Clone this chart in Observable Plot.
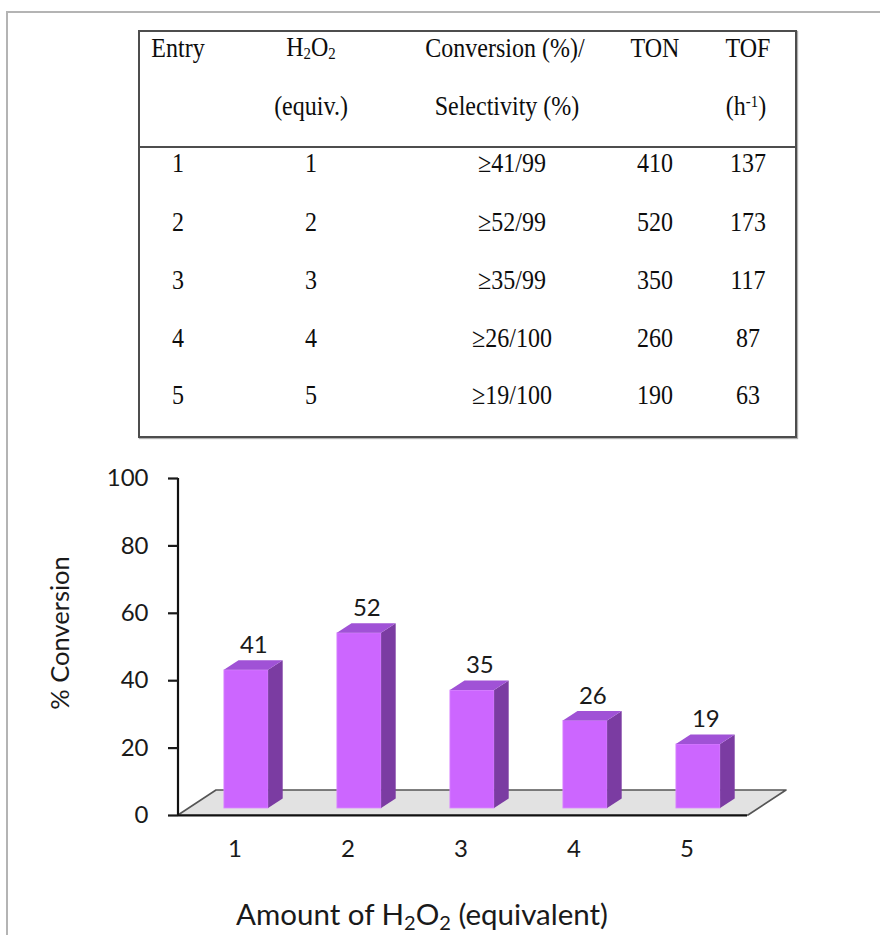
<!DOCTYPE html>
<html>
<head>
<meta charset="utf-8">
<script src="https://cdn.jsdelivr.net/npm/d3@7"></script>
<script src="https://cdn.jsdelivr.net/npm/@observablehq/plot@0.6"></script>
<style>
  html, body { margin: 0; padding: 0; background: #fff; }
  #page { position: relative; width: 880px; height: 935px; overflow: hidden; }
  .frame { position: absolute; left: 6px; top: 11px; width: 900px; height: 960px;
           border-top: 2.5px solid #b4b4b4; border-left: 2.5px solid #b4b4b4; }
  #tbl { position: absolute; left: 138px; top: 30px; width: 655px; height: 404px;
         border: 2px solid #4d4d4d; box-shadow: 1px 1px 1px #b0b0b0; }
  #sep { position: absolute; left: 138px; top: 146px; width: 659px; border-top: 2px solid #4d4d4d; }
  .cell { position: absolute; transform: translate(-50%, -50%) scaleY(1.14); white-space: nowrap; line-height: 1;
          font-family: "Liberation Serif", "Times New Roman", serif; font-size: 24px; color: #0d0d0d; }
  .cell sub { font-size: 0.62em; vertical-align: -0.18em; }
  .cell sup { font-size: 0.62em; vertical-align: 0.5em; }
  #chart { position: absolute; left: 0; top: 450px; }
  #xlabel { position: absolute; left: 422px; top: 915px; transform: translate(-50%, -50%);
            font-family: Lato, "Open Sans", sans-serif; font-size: 29.5px; color: #1a1a1a; white-space: nowrap; }
  #xlabel sub { font-size: 0.68em; vertical-align: -0.25em; }
</style>
</head>
<body>
<div id="page">
  <div class="frame"></div>
  <div id="tbl"></div>
  <div id="sep"></div>
  <div id="chart"></div>
  <div id="xlabel">Amount of H<sub>2</sub>O<sub>2</sub> (equivalent)</div>
</div>
<script>
// Oxidation results for increasing amounts of H2O2
const entries = [1, 2, 3, 4, 5];
const h2o2Equiv = [1, 2, 3, 4, 5];
const conversion = [41, 52, 35, 26, 19];
const selectivity = [99, 99, 99, 100, 100];
const ton = [410, 520, 350, 260, 190];
const tof = [137, 173, 117, 87, 63];
const yTicks = [0, 20, 40, 60, 80, 100];

// ---- table ----
const page = document.getElementById("page");
function cell(html, x, y) {
  const el = document.createElement("div");
  el.className = "cell";
  el.innerHTML = html;
  el.style.left = x + "px";
  el.style.top = y + "px";
  page.appendChild(el);
}
const colX = { entry: 178, h2o2: 311, conv: 512, ton: 655, tof: 748 };
cell("Entry", colX.entry, 48);
cell("H<sub>2</sub>O<sub>2</sub>", colX.h2o2, 48);
cell("(equiv.)", colX.h2o2, 106);
cell("Conversion (%)/", 505, 48);
cell("Selectivity (%)", 507, 106);
cell("TON", colX.ton, 48);
cell("TOF", colX.tof, 48);
cell("(h<sup>-1</sup>)", 746, 106);
const rowY = [163, 222, 280, 338, 395];
entries.forEach((e, i) => {
  cell(String(e), colX.entry, rowY[i]);
  cell(String(h2o2Equiv[i]), colX.h2o2, rowY[i]);
  cell("≥" + conversion[i] + "/" + selectivity[i], colX.conv, rowY[i]);
  cell(String(ton[i]), colX.ton, rowY[i]);
  cell(String(tof[i]), colX.tof, rowY[i]);
});

// ---- 3-D style column chart ----
const bars = h2o2Equiv.map((e, i) => ({ equiv: e, conv: conversion[i] }));

const inset = 34.4;                       // leaves a 45px wide column face
const shift = { dx: 9.5, dy: -7 };        // column plane sits inside the floor
const depth = { dx: 14.6, dy: -9.5 };     // column depth
const floorDepth = { dx: 38, dy: -25 };   // floor depth

function bandwidthOf(scales, dim) {
  return typeof scales.x.bandwidth === "function"
    ? scales.x.bandwidth()
    : (dim.width - dim.marginLeft - dim.marginRight) / bars.length;
}

// floor plane and vertical axis line
function floor(index, scales, values, dim) {
  const g = d3.create("svg:g");
  const x0 = dim.marginLeft, x1 = dim.width - dim.marginRight + 1, y0 = scales.y(0);
  g.append("path")
    .attr("d", `M${x0},${y0}L${x1},${y0}L${x1 + floorDepth.dx},${y0 + floorDepth.dy}L${x0 + floorDepth.dx},${y0 + floorDepth.dy}Z`)
    .attr("fill", "#e2e2e2")
    .attr("stroke", "#555")
    .attr("stroke-width", 1.6)
    .attr("stroke-linejoin", "round");
  g.append("line")
    .attr("x1", x0).attr("x2", x0)
    .attr("y1", scales.y(0) + 1).attr("y2", scales.y(100))
    .attr("stroke", "#111").attr("stroke-width", 2.2);
  return g.node();
}

// right side and top faces of each column
function columnFaces(index, scales, values, dim) {
  const g = d3.create("svg:g");
  const bw = bandwidthOf(scales, dim);
  bars.forEach(d => {
    const xl = scales.x(d.equiv) + inset + shift.dx;
    const xr = scales.x(d.equiv) + bw - inset + shift.dx;
    const yb = scales.y(0) + shift.dy;
    const yt = scales.y(d.conv) + shift.dy;
    g.append("path")
      .attr("d", `M${xr},${yb}L${xr + depth.dx},${yb + depth.dy}L${xr + depth.dx},${yt + depth.dy}L${xr},${yt}Z`)
      .attr("fill", "#7b3ca2");
    g.append("path")
      .attr("d", `M${xl},${yt}L${xr},${yt}L${xr + depth.dx},${yt + depth.dy}L${xl + depth.dx},${yt + depth.dy}Z`)
      .attr("fill", "#a052d6");
  });
  return g.node();
}

const chart = Plot.plot({
  width: 880,
  height: 485,
  marginLeft: 178,
  marginRight: 133,
  marginTop: 28,
  marginBottom: 120,
  style: { fontFamily: "Lato, 'Open Sans', sans-serif", color: "#1a1a1a", background: "transparent", overflow: "visible" },
  x: { type: "band", domain: h2o2Equiv, padding: 0 },
  y: { domain: [0, 100] },
  marks: [
    floor,
    Plot.barY(bars, {
      x: "equiv", y: "conv", fill: "#cc66ff",
      stroke: "#d98aff", strokeWidth: 0.8,
      insetLeft: inset, insetRight: inset, dx: shift.dx, dy: shift.dy
    }),
    columnFaces,
    Plot.ruleY([0], { stroke: "#111", strokeWidth: 2.2 }),
    Plot.axisY({ ticks: yTicks, tickSize: 10, tickPadding: 20, fontSize: 24, strokeWidth: 2.2, label: null }),
    Plot.axisX({ tickSize: 0, tickPadding: 24, fontSize: 24, label: null, dx: -2 }),
    Plot.text(bars, {
      x: "equiv", y: "conv", text: d => String(d.conv), fontSize: 24, fill: "#1a1a1a",
      dx: shift.dx + depth.dx / 2, dy: shift.dy + depth.dy - 15.5
    }),
    Plot.text(["% Conversion"], {
      frameAnchor: "left", textAnchor: "middle", rotate: -90, dx: -118, dy: -14,
      fontSize: 25.5, fill: "#1a1a1a"
    })
  ]
});
document.getElementById("chart").appendChild(chart);
</script>
</body>
</html>
